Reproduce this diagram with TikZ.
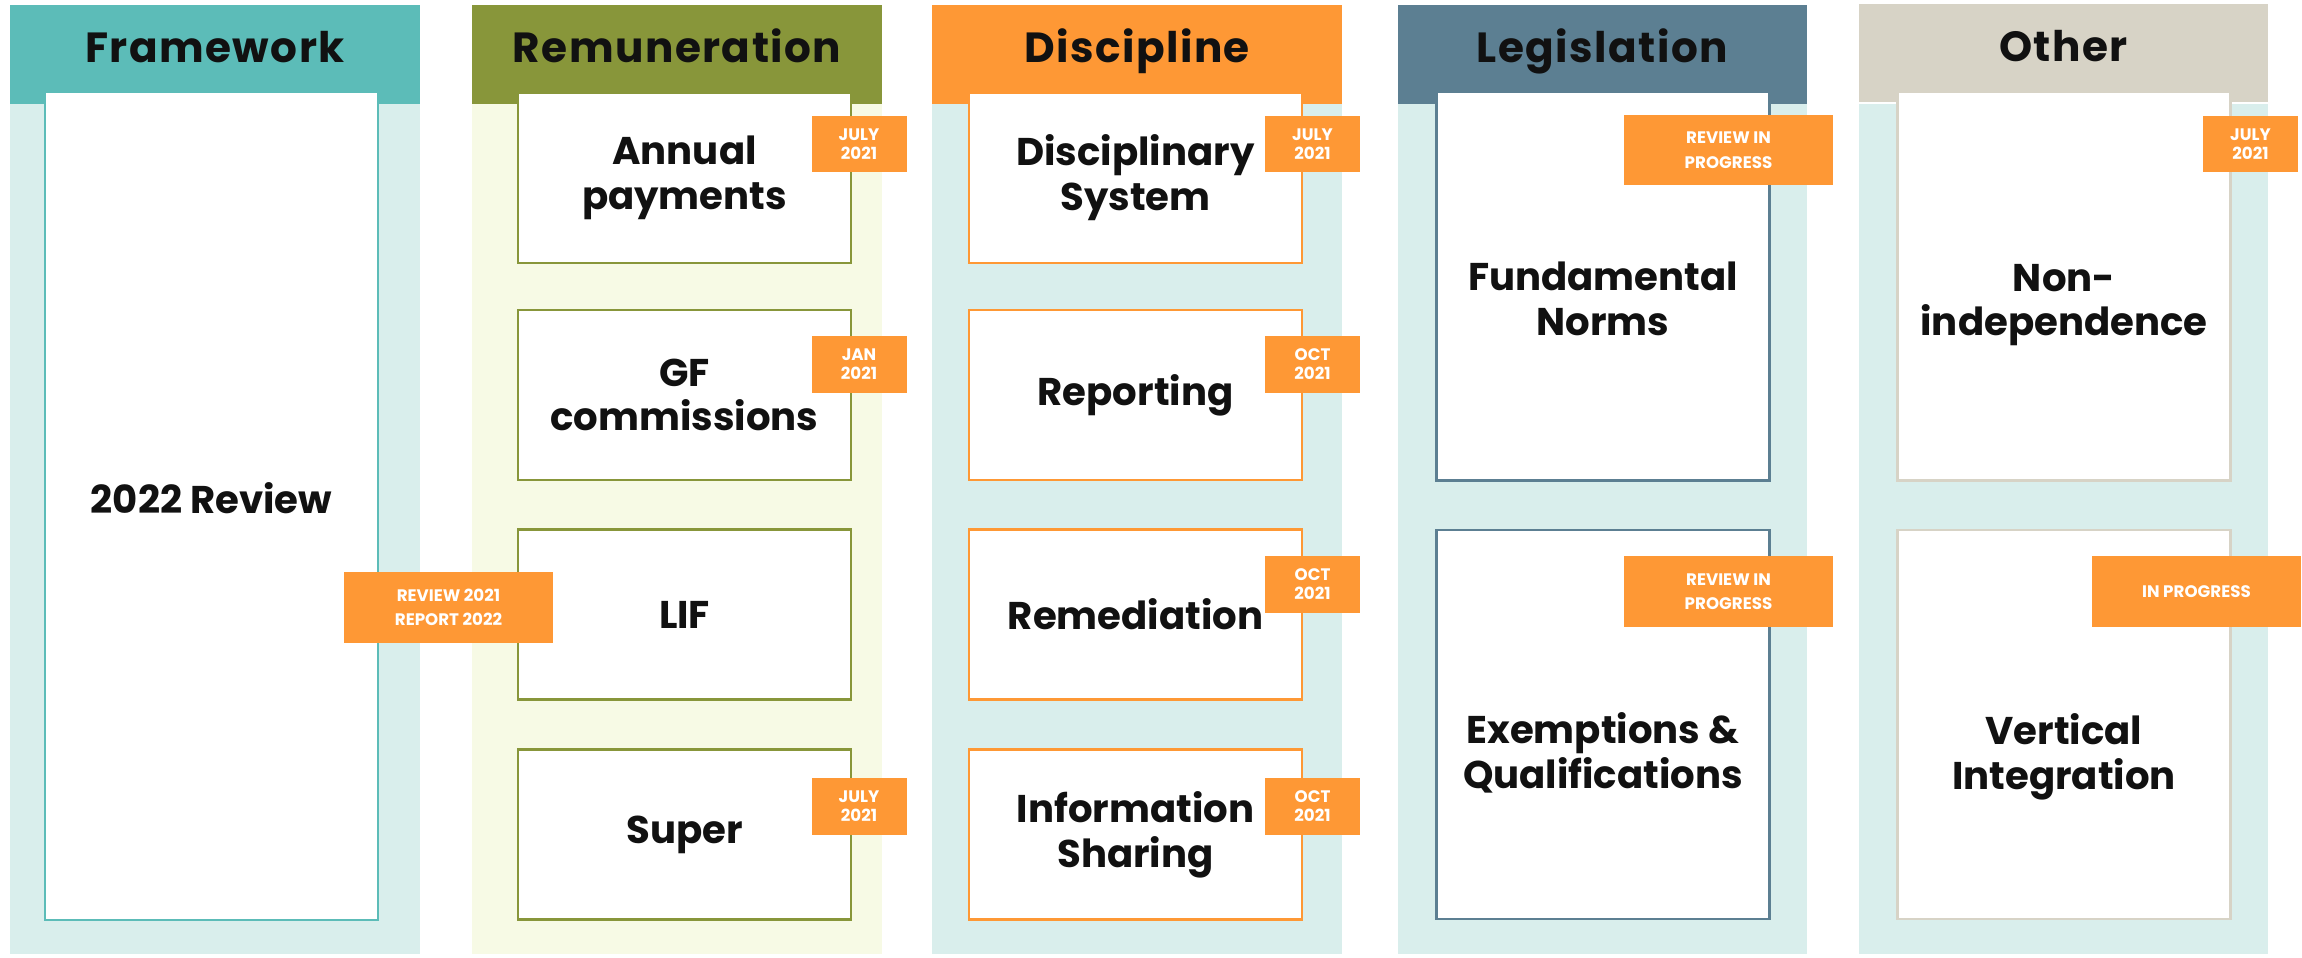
\documentclass[tikz,border=0pt]{standalone}
\usepackage{fontspec}
\setmainfont{Poppins}
\usepackage{tikz}
\definecolor{fwk}{HTML}{5CBCB8}
\definecolor{rem}{HTML}{88963A}
\definecolor{dis}{HTML}{FE9835}
\definecolor{leg}{HTML}{5C7F92}
\definecolor{oth}{HTML}{D7D3C6}
\definecolor{tagor}{HTML}{FE9835}
\definecolor{paleteal}{HTML}{D9EEEC}
\definecolor{palelime}{HTML}{F7FAE5}
\definecolor{ink}{HTML}{111111}

\begin{document}
\begin{tikzpicture}
	[x=0.02cm,y=-0.02cm,every node/.style={text=ink},
	back/.style={minimum width=8.2cm,minimum height=17cm,inner sep=0pt},
	head/.style={minimum width=8.2cm,minimum height=1.98cm,inner sep=0pt,font=\bfseries\fontsize{24}{28}\selectfont\addfontfeatures{LetterSpace=3.5},text height=17pt,text depth=7.5pt},
	card/.style={draw,fill=white,line width=1.3pt,minimum width=6.66cm,minimum height=3.4cm,inner sep=0pt,align=center,font=\bfseries\fontsize{22}{25.5}\selectfont},
	tall/.style={card,minimum height=7.78cm},
	txt/.style={align=center,font=\bfseries\fontsize{22}{25.5}\selectfont},
	tag/.style={fill=tagor,text=white,inner sep=0pt,align=center,minimum width=1.9cm,minimum height=1.14cm,font=\bfseries\fontsize{9.5}{11}\selectfont},
	wtag/.style={tag,minimum width=4.18cm,minimum height=1.42cm,font=\bfseries\fontsize{9.5}{14}\selectfont}]
	\useasboundingbox (0,0) rectangle (2302,957);

	\node[back,fill=paleteal] (bFw) at (215,529) {};
	\node[back,fill=palelime] (bRem) at (677,529) {};
	\node[back,fill=paleteal] (bDis) at (1137,529) {};
	\node[back,fill=paleteal] (bLeg) at (1602.5,529) {};
	\node[back,fill=paleteal] (bOth) at (2063.5,529) {};

	\node[head,fill=fwk] (hFw) at (215,54.5) {Framework};
	\node[head,fill=rem] (hRem) at (677,54.5) {Remuneration};
	\node[head,fill=dis] (hDis) at (1137,54.5) {Discipline};
	\node[head,fill=leg] (hLeg) at (1602.5,54.5) {Legislation};
	\node[head,fill=oth] (hOth) at (2063.5,53) {Other};

	\node[card,draw=fwk,minimum height=16.56cm] (review) at (211.5,506) {};
	\node[txt] (tReview) at (211.5,498) {2022 Review};

	\node[card,draw=rem] (annual) at (684.5,178) {Annual\\payments};
	\node[card,draw=rem] (gf) at (684.5,395) {GF\\commissions};
	\node[card,draw=rem] (lif) at (684.5,614.5) {LIF};
	\node[card,draw=rem] (super) at (684.5,834.5) {Super};

	\node[card,draw=dis] (dsys) at (1135.5,178) {Disciplinary\\System};
	\node[card,draw=dis] (report) at (1135.5,395) {Reporting};
	\node[card,draw=dis] (remed) at (1135.5,614.5) {Remediation};
	\node[card,draw=dis] (share) at (1135.5,834.5) {Information\\Sharing};

	\node[tall,draw=leg] (norms) at (1603,286) {};
	\node[txt] (tNorms) at (1603,299) {Fundamental\\Norms};
	\node[tall,draw=leg] (exempt) at (1603,724.5) {};
	\node[txt] (tExempt) at (1603,753) {Exemptions \&\\Qualifications};

	\node[tall,draw=oth] (nonind) at (2064,286) {};
	\node[txt] (tNonind) at (2064,305) {Non-\\independence};
	\node[tall,draw=oth] (vert) at (2064,724.5) {};
	\node[txt] (tVert) at (2064,757) {Vertical\\Integration};

	\node[wtag] (gReview) at (448.5,607.5) {REVIEW 2021\\REPORT 2022};
	\node[tag] (gAnnual) at (859,144) {JULY\\2021};
	\node[tag] (gGf) at (859,364) {JAN\\2021};
	\node[tag] (gSuper) at (859,806) {JULY\\2021};
	\node[tag] (gDsys) at (1312.5,144) {JULY\\2021};
	\node[tag] (gReport) at (1312.5,364) {OCT\\2021};
	\node[tag] (gRemed) at (1312.5,584) {OCT\\2021};
	\node[tag] (gShare) at (1312.5,806) {OCT\\2021};
	\node[wtag] (gNorms) at (1728.5,150) {REVIEW IN\\PROGRESS};
	\node[wtag] (gExempt) at (1728.5,591.5) {REVIEW IN\\PROGRESS};
	\node[tag] (gNonind) at (2250.5,144) {JULY\\2021};
	\node[wtag] (gVert) at (2196.5,591.5) {IN PROGRESS};
\end{tikzpicture}
\end{document}
